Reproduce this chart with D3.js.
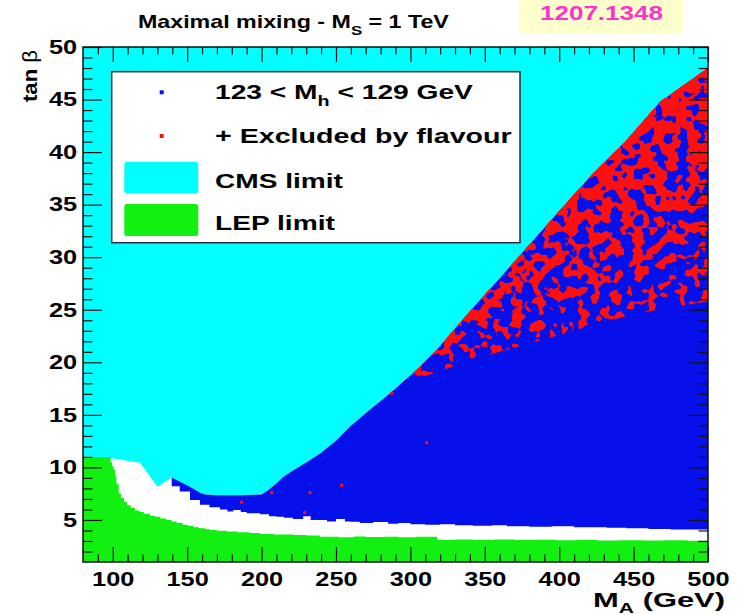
<!DOCTYPE html>
<html>
<head>
<meta charset="utf-8">
<script src="https://cdn.jsdelivr.net/npm/d3@7"></script>
<style>
  body { margin: 0; background: #fff; }
  svg { display: block; }
</style>
</head>
<body>
<svg id="chart" width="740" height="615"></svg>
<script>
// MSSM scan in the (M_A, tan beta) plane, maximal stop mixing, M_S = 1 TeV.

// Axis ticks
const xTicksMajor = [100, 150, 200, 250, 300, 350, 400, 450, 500];
const yTicksMajor = [5, 10, 15, 20, 25, 30, 35, 40, 45, 50];

// LEP exclusion: upper edge of the excluded band [M_A, tan beta]
const lepTop = [
  [80, 11.0], [97.5, 11.0], [98.5, 10.5], [99.5, 10.1], [100.6, 9.8], [101.5, 9.1],
  [102.5, 8.4], [104, 7.5], [105.5, 7.1], [107.5, 6.7], [109.6, 6.4], [112, 6.15],
  [115, 5.9], [118, 5.75], [120.8, 5.6], [125, 5.4], [128.5, 5.3], [132, 5.15],
  [136, 5.0], [139.5, 4.85], [143, 4.7], [147, 4.55], [150.5, 4.45], [154.3, 4.3],
  [158, 4.2], [162, 4.12], [165.4, 4.05], [170, 3.98], [176.6, 3.9], [184, 3.82],
  [192, 3.75], [199, 3.66], [208, 3.62], [221.4, 3.57], [230, 3.52], [239, 3.4],
  [252, 3.35], [262, 3.42], [270, 3.38], [282, 3.4], [292, 3.35], [304, 3.4],
  [318, 3.1], [330, 3.15], [342, 3.1], [356, 3.15], [370, 3.1], [384, 3.12],
  [398, 3.08], [412, 3.1], [426, 3.05], [440, 3.08], [456, 3.05], [470, 3.08],
  [486, 3.02], [500, 3.05]
];

// Upper edge of the uncovered strip left of the scan region
const gapTop = [[98.1, 10.9], [118.3, 10.45], [130, 8.17], [139.6, 9.03]];

// CMS limit: upper edge of the allowed scan region
const cmsEdge = [
  [139.6, 9.03], [145, 8.65], [151.9, 8.17], [158.6, 7.6], [162, 7.42], [170, 7.36],
  [185, 7.35], [200, 7.42], [205, 7.9], [210, 8.5], [214.6, 9.1], [220, 9.6],
  [232.6, 10.7], [240, 11.4], [250.5, 12.6], [259.4, 13.9], [272.9, 15.5],
  [286.3, 17.05], [304.2, 19.3], [317.7, 21.2], [331.1, 23.4], [344.6, 25.6],
  [360, 28.0], [380, 31.2], [400.6, 34.5], [423, 38.0], [445.4, 41.15],
  [467.8, 44.8], [500, 48.0]
];

// Lower edge of the points with 123 < M_h < 129 GeV
const scanFloor = [
  [139.6, 8.75], [145, 8.2], [151.9, 7.7], [158.6, 6.9], [165, 6.45], [172, 6.2],
  [177, 6.0], [181, 5.8], [186, 5.95], [190, 5.75], [199, 5.65], [205, 5.55],
  [210, 5.35], [215, 5.3], [221, 5.2], [228, 5.1], [233, 5.35], [236, 5.0],
  [244, 5.0], [250, 4.85], [256, 5.1], [260, 4.85], [266, 4.83], [275, 4.7],
  [285, 4.8], [292, 4.65], [300, 4.7], [310, 4.6], [320, 4.55], [330, 4.6],
  [342, 4.5], [355, 4.45], [365, 4.5], [380, 4.4], [395, 4.35], [410, 4.4],
  [420, 4.3], [432, 4.3], [445, 4.25], [460, 4.2], [475, 4.15], [490, 4.1], [500, 4.1]
];

// Flavour-excluded share of scan points: lines above which the share is reached
const flavourContours = [
  { share: 0.15, pts: [[283, 17.0], [300, 18.2], [320, 19.2], [360, 21.0], [400, 22.6], [450, 24.6], [500, 25.8]] },
  { share: 0.35, pts: [[300, 18.8], [330, 21.2], [360, 23.4], [400, 25.8], [450, 28.4], [500, 30.5]] },
  { share: 0.52, pts: [[330, 23.2], [360, 26.0], [400, 29.0], [450, 32.5], [500, 35.0]] },
  { share: 0.68, pts: [[370, 29.6], [400, 32.2], [450, 37.0], [500, 41.0]] },
  { share: 0.92, pts: [[425, 38.3], [450, 41.0], [475, 43.6], [500, 46.2]] }
];

// Isolated flavour-excluded points inside the scan region
const flavourPoints = [
  [287.5, 17.05], [311, 12.35], [253.8, 8.3], [206.8, 7.6], [232.5, 7.6], [229, 5.7], [186.6, 6.7]
];

const COLORS = { cms: "#00ffff", scan: "#0610ea", flavour: "#ff1010", lep: "#12f012", gap: "#ffffff" };
const FONT = "'Liberation Sans', Arial, Helvetica, sans-serif";

const svg = d3.select("#chart");
svg.append("rect").attr("width", 740).attr("height", 615).attr("fill", "#fff");

const x = d3.scaleLinear().domain([80, 500]).range([83, 708]);
const y = d3.scaleLinear().domain([1, 50]).range([562, 47]);
const X0 = x(80), X1 = x(500), Y0 = y(50), Y1 = y(1);

const pt = d => [x(d[0]), y(d[1])];
const linePath = d3.line().x(d => x(d[0])).y(d => y(d[1]));
const stepPath = d3.line().x(d => x(d[0])).y(d => y(d[1])).curve(d3.curveStepAfter);
const poly = pts => "M" + pts.map(p => p.join(",")).join("L") + "Z";

const defs = svg.append("defs");
defs.append("clipPath").attr("id", "plot-clip")
  .append("rect").attr("x", X0).attr("y", Y0).attr("width", X1 - X0).attr("height", Y1 - Y0);

// Scan region outline: CMS edge on top, step-like floor below
const scanD = linePath(cmsEdge) + stepPath(scanFloor.slice().reverse()).replace(/^M/, "L") + "Z";
defs.append("clipPath").attr("id", "scan-clip").append("path").attr("d", scanD);

const plot = svg.append("g").attr("clip-path", "url(#plot-clip)");

// CMS-excluded background
plot.append("rect").attr("x", X0).attr("y", Y0).attr("width", X1 - X0).attr("height", Y1 - Y0)
  .attr("fill", COLORS.cms);

// Uncovered strip between LEP band and scan region
const gapPts = gapTop.concat(cmsEdge.slice(1)).map(pt)
  .concat([[x(500), y(1)], [x(gapTop[0][0]), y(1)]]);
plot.append("path").attr("d", poly(gapPts)).attr("fill", COLORS.gap);

// Points with 123 < M_h < 129 GeV
plot.append("path").attr("d", scanD).attr("fill", COLORS.scan);

// Flavour-excluded points: mottled red, denser towards the CMS edge
const probit = p => Math.log(p / (1 - p)) / 1.7;
const redLayer = plot.append("g").attr("clip-path", "url(#scan-clip)");
flavourContours.forEach((c, i) => {
  const thr = 0.47 - 0.08 * probit(c.share);
  const k = 30;
  const f = defs.append("filter").attr("id", `mottle-${i}`)
    .attr("filterUnits", "userSpaceOnUse").attr("primitiveUnits", "userSpaceOnUse")
    .attr("x", X0).attr("y", Y0).attr("width", X1 - X0).attr("height", Y1 - Y0)
    .attr("color-interpolation-filters", "sRGB");
  f.append("feTurbulence").attr("type", "fractalNoise").attr("baseFrequency", 0.09)
    .attr("numOctaves", 2).attr("seed", 11);
  f.append("feColorMatrix").attr("type", "matrix")
    .attr("values", `0 0 0 0 1  0 0 0 0 0.06  0 0 0 0 0.06  ${k} 0 0 0 ${-k * thr}`);
  const zone = c.pts.map(pt).concat([[x(500), y(50) - 5], [x(c.pts[0][0]), y(50) - 5]]);
  defs.append("clipPath").attr("id", `zone-${i}`).append("path").attr("d", poly(zone));
  redLayer.append("g").attr("clip-path", `url(#zone-${i})`)
    .append("rect").attr("x", X0).attr("y", Y0).attr("width", X1 - X0).attr("height", Y1 - Y0)
    .attr("fill", "#000").attr("filter", `url(#mottle-${i})`);
});
plot.selectAll("rect.flv").data(flavourPoints).join("rect").attr("class", "flv")
  .attr("x", d => x(d[0]) - 1.5).attr("y", d => y(d[1]) - 1.5)
  .attr("width", 3).attr("height", 3).attr("fill", COLORS.flavour);

// LEP-excluded band
const lepD = stepPath(lepTop) + `L${x(500)},${y(1) + 2}L${x(80)},${y(1) + 2}Z`;
plot.append("path").attr("d", lepD).attr("fill", COLORS.lep);

// Axes: major and minor ticks on all four sides, labels bottom and left
const LX = 1.3;
function styleAxis(g) {
  g.select(".domain").remove();
  g.attr("font-family", FONT).attr("font-size", 19.5).attr("font-weight", "bold");
  g.selectAll("line").attr("stroke", "#111").attr("stroke-width", 1.2);
  g.selectAll("text").attr("fill", "#000");
}
const xMinor = d3.range(90, 500, 10).filter(v => v % 50 !== 0);
const yMinor = d3.range(2, 50, 1).filter(v => v % 5 !== 0);

const gxb = svg.append("g").attr("transform", `translate(0,${Y1})`)
  .call(d3.axisBottom(x).tickValues(xTicksMajor).tickSize(-15).tickPadding(10).tickFormat(d3.format("d")));
styleAxis(gxb);
gxb.selectAll("text").attr("transform", `scale(${LX},1)`);
svg.append("g").attr("transform", `translate(0,${Y1})`)
  .call(d3.axisBottom(x).tickValues(xMinor).tickSize(-7.5).tickFormat("")).call(styleAxis);
svg.append("g").attr("transform", `translate(0,${Y0})`)
  .call(d3.axisTop(x).tickValues(xTicksMajor).tickSize(-15).tickFormat("")).call(styleAxis);
svg.append("g").attr("transform", `translate(0,${Y0})`)
  .call(d3.axisTop(x).tickValues(xMinor).tickSize(-7.5).tickFormat("")).call(styleAxis);

const gyl = svg.append("g").attr("transform", `translate(${X0},0)`)
  .call(d3.axisLeft(y).tickValues(yTicksMajor).tickSize(-19).tickPadding(4.5).tickFormat(d3.format("d")));
styleAxis(gyl);
gyl.selectAll("text").attr("transform", `scale(${LX},1)`);
svg.append("g").attr("transform", `translate(${X0},0)`)
  .call(d3.axisLeft(y).tickValues(yMinor).tickSize(-9.5).tickFormat("")).call(styleAxis);
svg.append("g").attr("transform", `translate(${X1},0)`)
  .call(d3.axisRight(y).tickValues(yTicksMajor).tickSize(-19).tickFormat("")).call(styleAxis);
svg.append("g").attr("transform", `translate(${X1},0)`)
  .call(d3.axisRight(y).tickValues(yMinor).tickSize(-9.5).tickFormat("")).call(styleAxis);

svg.append("rect").attr("x", X0).attr("y", Y0).attr("width", X1 - X0).attr("height", Y1 - Y0)
  .attr("fill", "none").attr("stroke", "#111").attr("stroke-width", 1.5);

// Text helper: bold label stretched along its baseline to a given width
function label(parent, { x: lx, y: ly, size, width, anchor = "start", rotate = false, fill = "#000" }, build) {
  const g = parent.append("g");
  const t = g.append("text").attr("font-family", FONT).attr("font-weight", "bold")
    .attr("font-size", size).attr("text-anchor", anchor).attr("fill", fill);
  build(t);
  const w = t.node().getComputedTextLength();
  const s = width / w;
  g.attr("transform", `translate(${lx},${ly})${rotate ? " rotate(-90)" : ""} scale(${s},1)`);
  return g;
}

// Title
label(svg, { x: 138, y: 28.3, size: 18.6, width: 311 }, t => {
  t.append("tspan").text("Maximal mixing - M");
  t.append("tspan").attr("font-size", 13.5).attr("dy", 6.5).text("S");
  t.append("tspan").attr("dy", -6.5).text(" = 1 TeV");
});

// Reference tag
svg.append("rect").attr("x", 519).attr("y", 0).attr("width", 164).attr("height", 33).attr("fill", "#ffffcc");
label(svg, { x: 540, y: 19.5, size: 21, width: 123, fill: "#ff33cc" }, t => t.text("1207.1348"));

// Axis titles
label(svg, { x: 725, y: 606.7, size: 20.5, width: 132, anchor: "end" }, t => {
  t.append("tspan").text("M");
  t.append("tspan").attr("font-size", 14).attr("dy", 6).text("A");
  t.append("tspan").attr("dy", -6).text(" (GeV)");
});
label(svg, { x: 37, y: 50, size: 21, width: 52, anchor: "end", rotate: true }, t => {
  t.append("tspan").text("tan ");
  t.append("tspan").attr("font-weight", "normal").text("β");
});

// Legend
const legend = svg.append("g");
legend.append("rect").attr("x", 111.7).attr("y", 71.7).attr("width", 408.3).attr("height", 171)
  .attr("fill", "#fff").attr("stroke", "#2a2a3a").attr("stroke-width", 1.5);
legend.append("rect").attr("x", 159.7).attr("y", 90.3).attr("width", 4).attr("height", 4).attr("fill", COLORS.scan);
legend.append("rect").attr("x", 159.7).attr("y", 134).attr("width", 4).attr("height", 4).attr("fill", COLORS.flavour);
legend.append("rect").attr("x", 124.3).attr("y", 161.7).attr("width", 74).attr("height", 31.6).attr("rx", 2.5).attr("fill", COLORS.cms);
legend.append("rect").attr("x", 124.3).attr("y", 204).attr("width", 74).attr("height", 32).attr("rx", 2.5).attr("fill", COLORS.lep);

label(legend, { x: 215, y: 99.3, size: 20, width: 258 }, t => {
  t.append("tspan").text("123 < M");
  t.append("tspan").attr("font-size", 14).attr("dy", 7).text("h");
  t.append("tspan").attr("dy", -7).text(" < 129 GeV");
});
label(legend, { x: 215, y: 143.3, size: 20, width: 297 }, t => t.text("+ Excluded by flavour"));
label(legend, { x: 215, y: 188.3, size: 20, width: 128 }, t => t.text("CMS limit"));
label(legend, { x: 215, y: 230, size: 20, width: 120 }, t => t.text("LEP limit"));
</script>
</body>
</html>
